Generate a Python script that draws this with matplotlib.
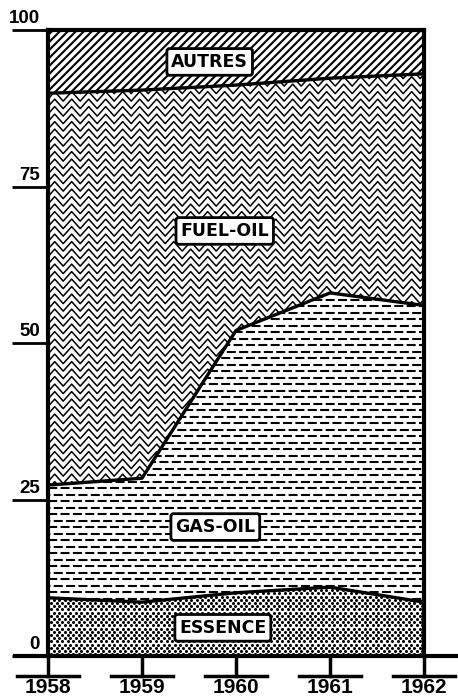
import numpy as np
import matplotlib
matplotlib.use("Agg")
import matplotlib.pyplot as plt
import matplotlib.transforms as mtransforms

# ---- data (shares, %) ----
years = [1958, 1959, 1960, 1961, 1962]
essence = [9.3, 8.6, 10.1, 11.0, 8.6]
gas_oil = [18.0, 19.8, 41.9, 47.0, 47.4]
fuel_oil = [62.6, 62.0, 39.2, 34.3, 37.0]
autres = [10.1, 9.6, 8.8, 7.7, 7.0]
series_labels = ["ESSENCE", "GAS-OIL", "FUEL-OIL", "AUTRES"]
label_pos = [(1959.86, 4.5), (1959.78, 20.6), (1959.88, 67.9), (1959.72, 94.9)]
yticks = [0, 25, 50, 75, 100]

plt.rcParams['lines.scale_dashes'] = False
TICK_FONT = ['Liberation Sans', 'DejaVu Sans']
BOX_FONT = ['DejaVu Sans']

W, H = 458, 697
fig = plt.figure(figsize=(W / 100, H / 100), dpi=100)
L, R, T, B = 48, 424, 30, 656
ax = fig.add_axes([L / W, 1 - B / H, (R - L) / W, (B - T) / H])
ax.set_xlim(years[0], years[-1])
ax.set_ylim(0, 100)

# pixel -> data scale for textures
px_x = (years[-1] - years[0]) / (R - L)
px_y = 100 / (B - T)

stack = np.vstack([essence, gas_oil, fuel_oil, autres])
tops = np.cumsum(stack, axis=0)
bottoms = np.vstack([np.zeros(len(years)), tops[:-1]])
x = np.array(years, dtype=float)

def region(i):
    xs = np.concatenate([x, x[::-1]])
    ys = np.concatenate([tops[i], bottoms[i][::-1]])
    return ax.fill(xs, ys, facecolor='white', edgecolor='none')[0]

x0, x1 = years[0] - 0.2, years[-1] + 0.2

# ESSENCE: staggered dot screen
p0 = region(0)
row = 0
for yy in np.arange(0.3, 20, 3.2 * px_y):
    off = 0 if row % 2 == 0 else 2.75 * px_x
    dxs = np.arange(x0 + off, x1, 5.5 * px_x)
    ln, = ax.plot(dxs, np.full_like(dxs, yy), linestyle='none', marker='o',
                  ms=2.2, mew=0, color='black')
    ln.set_clip_path(p0)
    row += 1

# GAS-OIL: staggered horizontal dashes
p1 = region(1)
row = 0
for yy in np.arange(0.8, 100, 6.5 * px_y):
    off = 0 if row % 2 == 0 else 4.0
    ln, = ax.plot([x0, x1], [yy, yy], color='black', lw=1.5,
                  linestyle=(off, (6.5, 2.4)))
    ln.set_clip_path(p1)
    row += 1

# FUEL-OIL: chevron zigzag
p2 = region(2)
dx = 8.5 * px_x
amp = 9.5 * px_y
n = int((x1 - x0) / dx) + 2
zx = x0 + dx * np.arange(n)
zy = amp * (np.arange(n) % 2)
for yy in np.arange(-12, 105, 7.5 * px_y):
    ln, = ax.plot(zx, zy + yy, color='black', lw=1.1)
    ln.set_clip_path(p2)

# AUTRES: thick diagonal stripes
p3 = region(3)
sx = np.array([x0, x1])
for c in np.arange(-60, 10, 8 * px_x):
    sy = (sx - (years[0] + c)) / px_x * px_y + 80
    ln, = ax.plot(sx, sy, color='black', lw=1.5)
    ln.set_clip_path(p3)

# boundary lines
for i in range(3):
    ax.plot(x, tops[i], color='black', lw=2.4, solid_capstyle='round')

# series labels in white boxes
for name, (lx, ly) in zip(series_labels, label_pos):
    ax.text(lx, ly, name, ha='center', va='center', fontsize=12.5,
            fontweight='bold', family=BOX_FONT,
            bbox=dict(boxstyle='round,pad=0.25,rounding_size=0.15',
                      facecolor='white', edgecolor='black', lw=2))

# frame
for s in ['left', 'right', 'top']:
    ax.spines[s].set_linewidth(3)
ax.spines['bottom'].set_visible(False)
ax.plot([-(L - 15) / (R - L), 1 + (457 - R) / (R - L)], [0, 0],
        transform=ax.transAxes, color='black', lw=3, clip_on=False)

# y ticks: underline to the left with number on top
ax.set_yticks(yticks)
ax.tick_params(axis='y', length=26, width=2, direction='out', labelleft=False)
for v in yticks:
    ax.text(-8 / (R - L), v + 0.4, str(v), transform=ax.get_yaxis_transform(),
            ha='right', va='bottom', fontsize=13.5, fontweight='bold',
            family=TICK_FONT)

# x ticks: stub + bar, label below
ax.set_xticks(years)
ax.tick_params(axis='x', length=0, labelbottom=False)
trans = mtransforms.blended_transform_factory(ax.transData, ax.transAxes)
stub = -(676 - B) / (B - T)
half = 31 * px_x
for yr in years:
    ax.plot([yr, yr], [0, stub], transform=trans, color='black', lw=2.5,
            clip_on=False)
    ax.plot([yr - half, yr + half], [stub, stub], transform=trans,
            color='black', lw=2.5, clip_on=False)
    ax.text(yr, stub - 2 / (B - T), str(yr), transform=trans, ha='center',
            va='top', fontsize=15, fontweight='bold', family=TICK_FONT)

fig.savefig('out.png', dpi=100)
